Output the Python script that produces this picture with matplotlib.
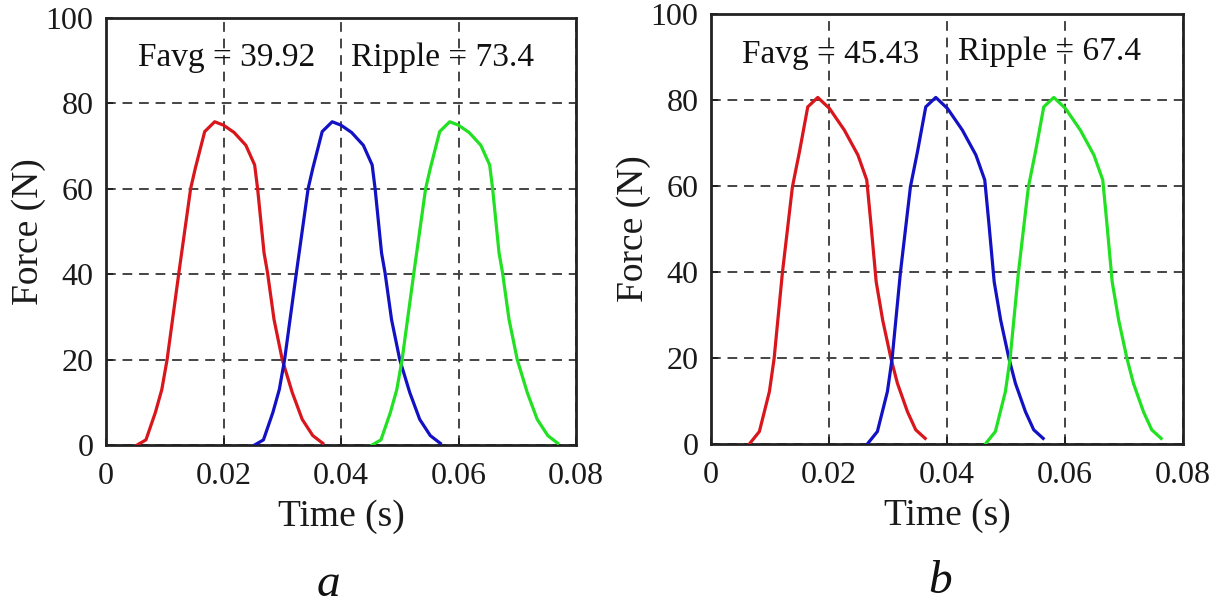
import matplotlib
matplotlib.use("Agg")
import matplotlib.pyplot as plt

# ---- data: panel a ----
a_t_red = [0.0053, 0.0068, 0.0084, 0.0095, 0.0104, 0.0124, 0.0144, 0.0152, 0.0168, 0.0185, 0.0200, 0.0218,
           0.0238, 0.0253, 0.0258, 0.0269, 0.0275, 0.0286, 0.0300, 0.0317, 0.0334, 0.0352, 0.0369]
a_t_blue = [0.0253, 0.0268, 0.0284, 0.0295, 0.0304, 0.0324, 0.0344, 0.0352, 0.0368, 0.0385, 0.0400, 0.0418,
            0.0438, 0.0453, 0.0458, 0.0469, 0.0475, 0.0486, 0.0500, 0.0517, 0.0534, 0.0552, 0.0569]
a_t_green = [0.0453, 0.0468, 0.0484, 0.0495, 0.0504, 0.0524, 0.0544, 0.0552, 0.0568, 0.0585, 0.0600, 0.0618,
             0.0638, 0.0653, 0.0658, 0.0669, 0.0675, 0.0686, 0.0700, 0.0717, 0.0734, 0.0752, 0.0769]
a_F_red = [0, 1.2, 7.6, 13, 20, 40.3, 60, 64.8, 73.4, 75.7, 74.9, 73.2, 70.2, 65.6, 60.1, 45, 40.3, 29.4,
           20, 12.3, 6, 2.2, 0.4]
a_F_blue = [0, 1.2, 7.6, 13, 20, 40.3, 60, 64.8, 73.4, 75.7, 74.9, 73.2, 70.2, 65.6, 60.1, 45, 40.3, 29.4,
            20, 12.3, 6, 2.2, 0.4]
a_F_green = [0, 1.2, 7.6, 13, 20, 40.3, 60, 64.8, 73.4, 75.7, 74.9, 73.2, 70.2, 65.6, 60.1, 45, 40.3, 29.4,
             20, 12.3, 6, 2.2, 0.4]
a_favg = "39.92"
a_ripple = "73.4"

# ---- data: panel b ----
b_t_red = [0.0065, 0.0082, 0.0099, 0.0107, 0.0121, 0.0138, 0.0150, 0.0164, 0.0181, 0.0201, 0.0226, 0.0249,
           0.0264, 0.0271, 0.0280, 0.0291, 0.0305, 0.0316, 0.0333, 0.0347, 0.0363]
b_t_blue = [0.0265, 0.0282, 0.0299, 0.0307, 0.0321, 0.0338, 0.0350, 0.0364, 0.0381, 0.0401, 0.0426, 0.0449,
            0.0464, 0.0471, 0.0480, 0.0491, 0.0505, 0.0516, 0.0533, 0.0547, 0.0563]
b_t_green = [0.0465, 0.0482, 0.0499, 0.0507, 0.0521, 0.0538, 0.0550, 0.0564, 0.0581, 0.0601, 0.0626, 0.0649,
             0.0664, 0.0671, 0.0680, 0.0691, 0.0705, 0.0716, 0.0733, 0.0747, 0.0763]
b_F_red = [0, 2.9, 12.2, 19.9, 39.8, 59.8, 68, 78.4, 80.6, 78, 73, 67.2, 61.4, 51.3, 37.7, 28.8, 19.9,
           14.1, 7.5, 3.3, 1.3]
b_F_blue = [0, 2.9, 12.2, 19.9, 39.8, 59.8, 68, 78.4, 80.6, 78, 73, 67.2, 61.4, 51.3, 37.7, 28.8, 19.9,
            14.1, 7.5, 3.3, 1.3]
b_F_green = [0, 2.9, 12.2, 19.9, 39.8, 59.8, 68, 78.4, 80.6, 78, 73, 67.2, 61.4, 51.3, 37.7, 28.8, 19.9,
             14.1, 7.5, 3.3, 1.3]
b_favg = "45.43"
b_ripple = "67.4"

x_ticks = [0, 0.02, 0.04, 0.06, 0.08]
x_ticklabels = ["0", "0.02", "0.04", "0.06", "0.08"]
y_ticks = [0, 20, 40, 60, 80, 100]
y_ticklabels = ["0", "20", "40", "60", "80", "100"]

plt.rcParams['font.family'] = ['Liberation Serif', 'DejaVu Serif']

W, H = 1223, 604
fig = plt.figure(figsize=(W / 100, H / 100), dpi=100)

RED = '#d8161c'
BLUE = '#1212c4'
GREEN = '#22e022'
TXT = '#1a1a1a'

def make_panel(rect, series, favg, ripple, favg_pos, ripple_pos, letter, letter_xy):
    ax = fig.add_axes(rect)
    for t, f, c in series:
        ax.plot(t, f, color=c, lw=2.3, zorder=3)
    ax.set_xlim(0, 0.08)
    ax.set_ylim(0, 100)
    ax.set_xticks(x_ticks)
    ax.set_xticklabels(x_ticklabels)
    ax.set_yticks(y_ticks)
    ax.set_yticklabels(y_ticklabels)
    ax.tick_params(direction='in', length=5, width=1.2, labelsize=23, colors=TXT)
    ax.tick_params(axis='x', pad=12)
    ax.tick_params(axis='y', pad=9)
    ax.grid(True, linestyle=(0, (5, 3.5)), color='#444444', lw=1.4)
    for s in ax.spines.values():
        s.set_linewidth(2.0)
        s.set_color('#222222')
    ax.set_xlabel("Time (s)", fontsize=27, labelpad=6, color=TXT)
    ax.set_ylabel("Force (N)", fontsize=27, labelpad=0, color=TXT)
    ax.text(favg_pos[0], favg_pos[1], "Favg = " + favg, fontsize=24, va='center', ha='left',
            color='#111111', zorder=5)
    ax.text(ripple_pos[0], ripple_pos[1], "Ripple = " + ripple, fontsize=24, va='center', ha='left',
            color='#111111', zorder=5)
    fig.text(letter_xy[0] / W, 1 - letter_xy[1] / H, letter, fontsize=34, style='italic',
             ha='center', va='center', color='#111111')
    return ax

make_panel([106 / W, 1 - 445 / H, 470 / W, 427 / H],
           [(a_t_red, a_F_red, RED), (a_t_blue, a_F_blue, BLUE), (a_t_green, a_F_green, GREEN)],
           a_favg, a_ripple, (0.0055, 90.6), (0.0417, 90.8), "a", (328, 585))

make_panel([711 / W, 1 - 444 / H, 472 / W, 430 / H],
           [(b_t_red, b_F_red, RED), (b_t_blue, b_F_blue, BLUE), (b_t_green, b_F_green, GREEN)],
           b_favg, b_ripple, (0.0053, 90.5), (0.0419, 91.2), "b", (940, 582))

fig.savefig("out.png", dpi=100, facecolor='white')
